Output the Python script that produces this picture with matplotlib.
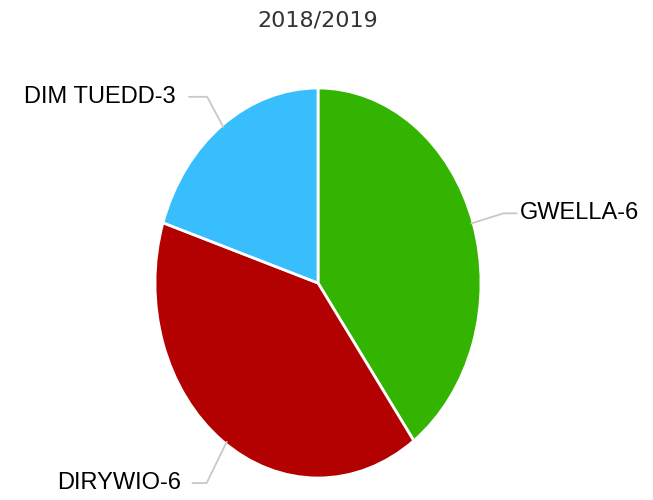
#! /usr/bin/env python3

import numpy as np
import matplotlib
matplotlib.use("Agg")
import matplotlib.pyplot as plt
from matplotlib.lines import Line2D

# data
labels = ["GWELLA", "DIRYWIO", "DIM TUEDD"]
values = [6, 6, 3]
colors = ["#33b400", "#b30000", "#38bdfd"]
title = "2018/2019"

W, H = 653, 500
fig = plt.figure(figsize=(W / 100, H / 100), dpi=100)

# pie is stretched vertically in the original, so the axes box is the ellipse
ax = fig.add_axes([155 / W, 22 / H, 326 / W, 390 / H])
wedges, _ = ax.pie(values, colors=colors, startangle=90, counterclock=False,
                   wedgeprops=dict(edgecolor="white", linewidth=2))
ax.set_aspect("auto")
ax.set_xlim(-1, 1)
ax.set_ylim(-1, 1)

fig.text(318 / W, 1 - 20 / H, title, ha="center", va="center",
         fontsize=16, color="#333333", family="DejaVu Sans")

# leader lines: elbow dx, elbow dy, end dx, text gap (pixels)
layout = [
    (32, 10, 45, 3),
    (-20, -41, -34, -11),
    (-16, 30, -34, -14),
]
total = sum(values)
start = 90.0
for i, (lab, v) in enumerate(zip(labels, values)):
    span = 360.0 * v / total
    mid = np.deg2rad(start - span / 2)
    start -= span
    if i == 1:
        mid += np.deg2rad(1.5)
    px, py = ax.transData.transform((0.99 * np.cos(mid), 0.99 * np.sin(mid)))
    dx1, dy1, dx2, gap = layout[i]
    ty = py + dy1
    xs = [px, px + dx1, px + dx2]
    ys = [py, ty, ty]
    fig.add_artist(Line2D(np.array(xs) / W, np.array(ys) / H,
                          transform=fig.transFigure, color="#c8c8c8", lw=1.3))
    side = "left" if gap > 0 else "right"
    fig.text((px + dx2 + gap) / W, ty / H, f"{lab}-{v}", ha=side, va="center",
             fontsize=17, color="black", family="Liberation Sans")

fig.savefig("out.png", dpi=100, facecolor="white")
